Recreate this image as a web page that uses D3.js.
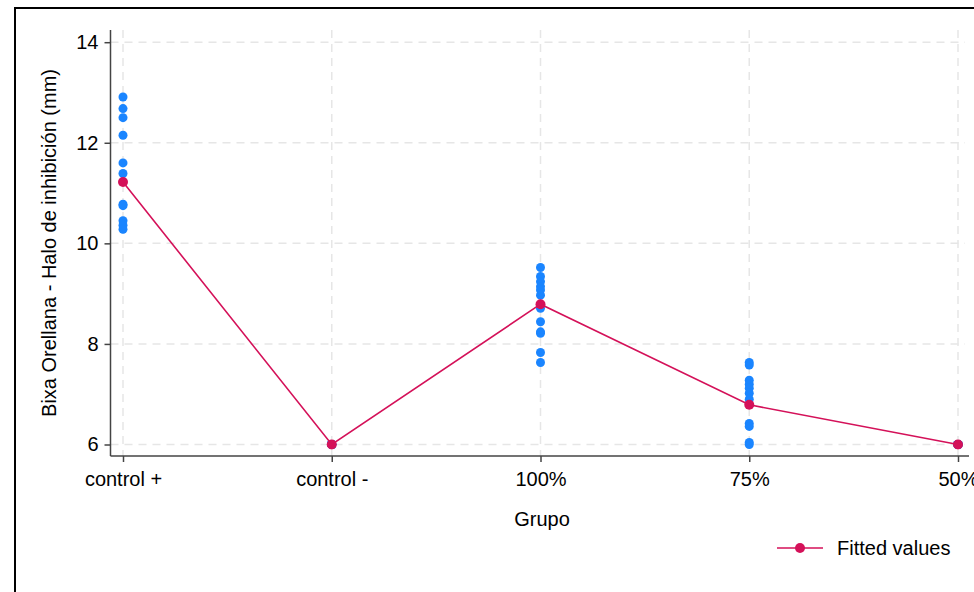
<!DOCTYPE html>
<html><head><meta charset="utf-8">
<script src="https://cdn.jsdelivr.net/npm/d3@7"></script>
<style>
html,body{margin:0;padding:0;background:#fff;overflow:hidden}
svg{display:block;font-family:"Liberation Sans",Arial,sans-serif}
</style></head><body>
<svg id="c" width="974" height="592"></svg>
<script>
const categories = ["control +","control -","100%","75%","50%"];
const obsControlPos = [12.91,12.68,12.50,12.15,11.60,11.39,10.78,10.75,10.45,10.36,10.28];
const obsControlNeg = [6,6,6,6,6,6,6,6,6,6];
const obs100 = [9.52,9.34,9.24,9.14,9.07,8.97,8.71,8.44,8.24,8.21,7.83,7.63];
const obs75 = [7.63,7.58,7.28,7.20,7.12,7.02,6.90,6.42,6.36,6.04,6.00];
const obs50 = [6,6,6,6,6,6,6,6,6,6];
const fitted = [11.22,6,8.79,6.79,6];
const yTicks = [6,8,10,12,14];

const observations = [obsControlPos,obsControlNeg,obs100,obs75,obs50];
const blue = "#1a85ff", red = "#d41159";
const svg = d3.select("#c");
const FS = 20;

// outer frame
svg.append("rect").attr("x",15).attr("y",8).attr("width",1100).attr("height",1100)
  .attr("fill","none").attr("stroke","#000").attr("stroke-width",2);

const x = d3.scalePoint().domain(categories).range([123,958]);
const y = d3.scaleLinear().domain([6,14]).range([444.5,42.2]);
const plotTop = 30, plotBottom = 456, plotLeft = 110.5, plotRight = 969;

// grid
const grid = svg.append("g").attr("stroke","#e6e6e6").attr("stroke-width",1.5).attr("stroke-dasharray","8,6");
grid.selectAll(".h").data(yTicks).join("line")
  .attr("x1",plotLeft).attr("x2",plotRight-4).attr("y1",d=>y(d)).attr("y2",d=>y(d));
grid.selectAll(".v").data(categories).join("line")
  .attr("x1",d=>x(d)).attr("x2",d=>x(d)).attr("y1",plotTop).attr("y2",plotBottom);

// axes
const yAxis = svg.append("g").attr("transform",`translate(${plotLeft},0)`)
  .call(d3.axisLeft(y).tickValues(yTicks).tickSize(6).tickPadding(6).tickFormat(d3.format("d")));
yAxis.select(".domain").attr("d",`M0,${plotTop}V${plotBottom}`);
const xAxis = svg.append("g").attr("transform",`translate(0,${plotBottom})`)
  .call(d3.axisBottom(x).tickSize(6).tickPadding(10));
xAxis.select(".domain").attr("d",`M${plotLeft},0H${plotRight}`);
svg.selectAll(".domain").attr("stroke","#444").attr("stroke-width",1.5);
svg.selectAll(".tick line").attr("stroke","#444").attr("stroke-width",1.5);
svg.selectAll(".tick text").attr("font-size",FS).attr("fill","#000")
  .attr("font-family","'Liberation Sans',Arial,sans-serif");

// observations
const pts = [];
observations.forEach((arr,i)=>arr.forEach(v=>pts.push({c:categories[i],v})));
svg.append("g").selectAll("circle").data(pts).join("circle")
  .attr("cx",d=>x(d.c)).attr("cy",d=>y(d.v)).attr("r",4.5).attr("fill",blue);

// fitted line
const fit = categories.map((c,i)=>({c,v:fitted[i]}));
svg.append("path").datum(fit)
  .attr("d",d3.line().x(d=>x(d.c)).y(d=>y(d.v)))
  .attr("fill","none").attr("stroke",red).attr("stroke-width",1.6);
svg.append("g").selectAll("circle").data(fit).join("circle")
  .attr("cx",d=>x(d.c)).attr("cy",d=>y(d.v)).attr("r",5).attr("fill",red);

// titles
svg.append("text").attr("x",542).attr("y",526).attr("text-anchor","middle")
  .attr("font-size",FS).text("Grupo");
svg.append("text").attr("transform","translate(56,243) rotate(-90)").attr("text-anchor","middle")
  .attr("font-size",FS).text("Bixa Orellana - Halo de inhibición (mm)");

// legend
const lg = svg.append("g");
lg.append("line").attr("x1",777).attr("x2",823).attr("y1",548).attr("y2",548)
  .attr("stroke",red).attr("stroke-width",1.6);
lg.append("circle").attr("cx",800).attr("cy",548).attr("r",5).attr("fill",red);
lg.append("text").attr("x",837).attr("y",555).attr("font-size",FS).text("Fitted values");
</script></body></html>
